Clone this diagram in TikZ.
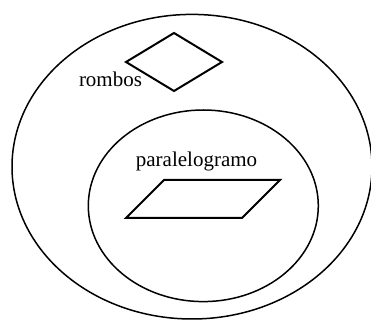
\documentclass[tikz,border=0pt]{standalone}
\usepackage{fontspec}
\setmainfont{Liberation Serif}
\usetikzlibrary{positioning}
\tikzset{
    conjunto/.style={draw, line width=1.5pt},
    figura/.style={draw, line width=2pt, line join=miter},
    rotulo/.style={inner sep=0pt, anchor=base, font=\fontsize{21}{25}\selectfont}
}

\begin{document}
\begin{tikzpicture}[x=1pt, y=1pt]
\useasboundingbox (0,0) rectangle (371,320);

% conjuntos
\draw[conjunto] (192,153.3) ellipse [x radius=180, y radius=152.3];
\draw[conjunto] (203.3,114.2) ellipse [x radius=115, y radius=95.8];

% rombo
\coordinate (rA) at (174,287);
\coordinate (rB) at (222,258);
\coordinate (rC) at (174,229);
\coordinate (rD) at (126,258);
\draw[figura] (rA) -- (rB) -- (rC) -- (rD) -- cycle;

% paralelogramo
\coordinate (pA) at (164,140);
\coordinate (pB) at (280,140);
\coordinate (pC) at (242,102);
\coordinate (pD) at (126,102);
\draw[figura] (pA) -- (pB) -- (pC) -- (pD) -- cycle;

\node[rotulo] (rombos) at (110.5,233) {rombos};
\node[rotulo] (paralelogramo) at (196.5,153.3) {paralelogramo};

\end{tikzpicture}
\end{document}
